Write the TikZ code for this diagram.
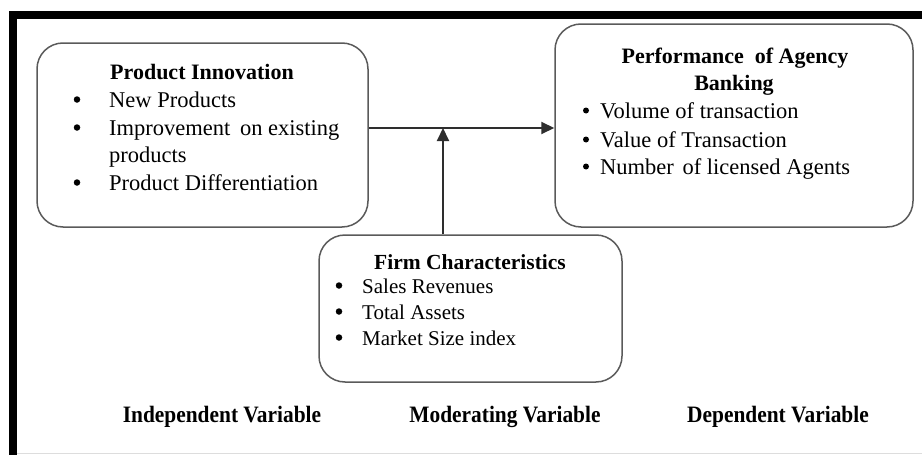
\documentclass[tikz,border=0pt]{standalone}
\usepackage{fontspec}
\setmainfont{Liberation Serif}
\newfontfamily\captionfont[FakeStretch=0.91]{Liberation Serif}
\usetikzlibrary{arrows.meta}
\definecolor{boxgray}{HTML}{5A5A5A}
\definecolor{arrowgray}{HTML}{2E2E2E}
\definecolor{rulegray}{HTML}{DDDDDD}
\begin{document}
\begin{tikzpicture}[x=1pt,y=-1pt,
  varbox/.style={draw=boxgray, line width=1.5pt, rounded corners=26pt, inner sep=0pt},
  txt/.style={anchor=base west, inner sep=0pt, font=\fontsize{22.5}{26}\selectfont},
  smalltxt/.style={anchor=base west, inner sep=0pt, font=\fontsize{21}{25}\selectfont},
  dot/.style={circle, fill=black, inner sep=0pt, minimum size=6.5pt, yshift=7.5pt},
  title/.style={anchor=base, inner sep=0pt, font=\fontsize{22}{26}\selectfont\bfseries},
  caption/.style={anchor=base, inner sep=0pt, font=\fontsize{23.5}{26}\selectfont\captionfont\bfseries},
  arr/.style={draw=arrowgray, line width=2pt, -{Triangle[length=13pt,width=12pt]}}
]
\useasboundingbox (0,0) rectangle (922,455);

% page frame
\fill[black] (9,11) rectangle (922,19);
\fill[black] (9,11) rectangle (17,455);
\draw[rulegray, line width=1pt] (17,453.5) -- (922,453.5);

% boxes
\node[varbox, minimum width=331pt, minimum height=184pt] (pi)  at (202.5,135) {};
\node[varbox, minimum width=358pt, minimum height=203pt] (pab) at (734,125.5) {};
\node[varbox, minimum width=303pt, minimum height=147pt] (fc)  at (470.5,308.5) {};

% product innovation
\node[title] (piT) at (202,79) {Product Innovation};
\node[dot] (piB1) at (77,107) {};
\node[txt] (piL1) at (109,107) {New Products};
\node[dot] (piB2) at (77,135) {};
\node[txt] (piL2) at (109,135) {Improvement\hspace{4pt} on existing};
\node[txt] (piL3) at (109,162) {products};
\node[dot] (piB3) at (77,190) {};
\node[txt] (piL4) at (109,190) {Product Differentiation};

% performance of agency banking
\node[title] (pabT1) at (735,63) {Performance\ \ of Agency};
\node[title] (pabT2) at (734,90) {Banking};
\node[dot, minimum size=6pt] (pabB1) at (586,118) {};
\node[txt] (pabL1) at (600,118) {Volume of transaction};
\node[dot, minimum size=6pt] (pabB2) at (586,147) {};
\node[txt] (pabL2) at (600,147) {Value of Transaction};
\node[dot, minimum size=6pt] (pabB3) at (586,174) {};
\node[txt] (pabL3) at (600,174) {Number\hspace{3pt} of licensed Agents};

% firm characteristics
\node[title, font=\fontsize{21.5}{25}\selectfont\bfseries] (fcT) at (470,269) {Firm Characteristics};
\node[dot] (fcB1) at (339,293) {};
\node[smalltxt] (fcL1) at (362,293) {Sales Revenues};
\node[dot] (fcB2) at (339,319) {};
\node[smalltxt] (fcL2) at (362,319) {Total Assets};
\node[dot] (fcB3) at (339,345) {};
\node[smalltxt] (fcL3) at (362,345) {Market Size index};

% connectors
\coordinate (join) at (443,128);
\draw[arr] (pi.east |- join) -- (pab.west |- join);
\draw[arr] (fc.north -| join) -- (join);

% variable captions
\node[caption] (iv) at (222,422) {Independent Variable};
\node[caption] (mv) at (505,422) {Moderating Variable};
\node[caption] (dv) at (778,422) {Dependent Variable};
\end{tikzpicture}
\end{document}
